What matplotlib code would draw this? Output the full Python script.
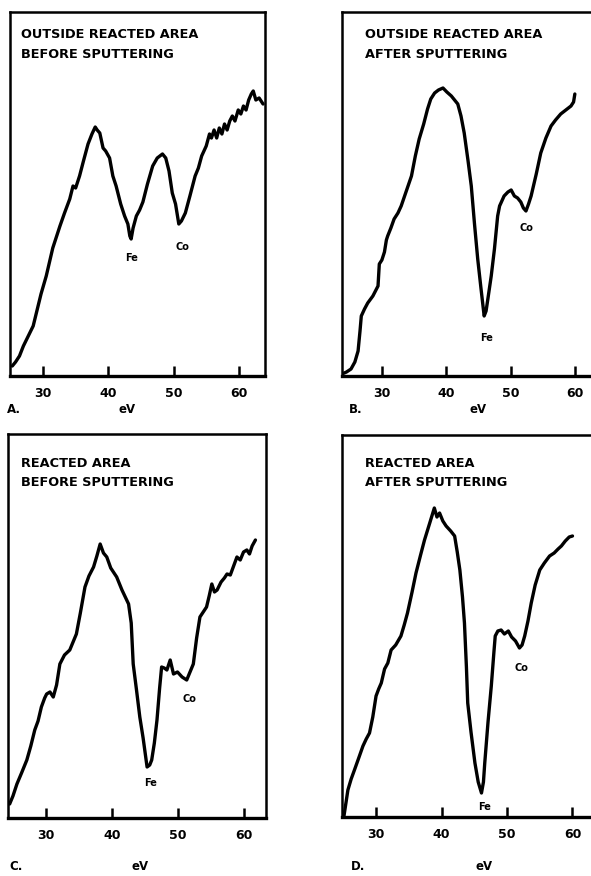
import matplotlib
matplotlib.use("Agg")
import matplotlib.pyplot as plt

# Auger spectra, Fe/Co region, four sample conditions
ev_a = [25.3, 25.8, 26.4, 27.0, 27.6, 28.5, 29.1, 29.7, 30.5, 31.5, 32.1, 32.6, 33.3, 34.1,
        34.6, 35.0, 35.6, 36.2, 36.9, 37.5, 38.0, 38.3, 38.7, 39.2, 39.6, 40.2, 40.7, 41.2,
        41.9, 42.5, 43.0, 43.3, 43.5, 43.8, 44.3, 44.8, 45.3, 46.0, 46.8, 47.5, 48.3, 48.8,
        49.3, 49.8, 50.3, 50.8, 51.2, 51.8, 52.5, 53.3, 53.8, 54.3, 55.0, 55.5, 55.8, 56.2,
        56.6, 57.0, 57.4, 57.8, 58.2, 58.6, 59.0, 59.4, 59.9, 60.3, 60.7, 61.1, 61.5, 61.9,
        62.2, 62.6, 63.1, 63.7]
sig_a = [10, 14, 20, 30, 38, 50, 66, 82, 100, 128, 140, 150, 163, 177,
         190, 188, 200, 215, 232, 242, 249, 246, 243, 228, 225, 218, 200, 190,
         172, 160, 152, 140, 137, 148, 160, 166, 174, 192, 210, 218, 222, 218,
         205, 183, 172, 152, 155, 163, 180, 200, 208, 220, 230, 242, 238, 246,
         238, 248, 242, 252, 246, 255, 260, 255, 266, 262, 270, 266, 276, 282,
         285, 276, 278, 272]

ev_b = [23.8, 24.5, 25.2, 25.8, 26.3, 26.6, 26.8, 27.3, 27.8, 28.6, 29.4, 29.6, 30.0, 30.4,
        30.7, 30.9, 31.4, 31.9, 32.5, 33.0, 33.8, 34.6, 35.2, 35.8, 36.5, 37.1, 37.6, 38.2,
        38.8, 39.5, 40.1, 40.8, 41.3, 41.8, 42.3, 42.8, 43.4, 43.9, 44.4, 44.9, 45.4, 45.9,
        46.2, 46.5, 47.0, 47.5, 48.0, 48.3, 49.0, 49.6, 50.1, 50.6, 51.1, 51.6, 52.0, 52.4,
        52.8, 53.2, 54.0, 54.7, 55.5, 56.3, 57.0, 57.8, 58.6, 59.4, 59.8, 60.0]
sig_b = [2, 4, 7, 14, 25, 45, 60, 67, 73, 80, 90, 112, 116, 124,
         136, 140, 148, 157, 163, 170, 185, 200, 220, 237, 252, 267, 277, 283,
         286, 288, 284, 280, 276, 272, 260, 243, 215, 190, 152, 117, 88, 60,
         65, 78, 100, 127, 160, 170, 180, 184, 186, 180, 178, 174, 168, 165,
         172, 180, 202, 223, 238, 250, 256, 262, 266, 270, 274, 282]

ev_c = [24.5, 25.0, 25.6, 26.3, 27.1, 27.7, 28.3, 28.8, 29.3, 29.8, 30.1, 30.6, 31.1, 31.6,
        32.1, 32.8, 33.6, 34.1, 34.6, 35.2, 35.9, 36.5, 37.2, 37.7, 38.2, 38.7, 39.2, 39.8,
        40.7, 41.5, 42.5, 42.9, 43.2, 43.7, 44.2, 44.7, 45.3, 45.7, 46.0, 46.4, 46.8, 47.2,
        47.5, 47.9, 48.3, 48.8, 49.3, 49.9, 50.6, 51.3, 51.8, 52.3, 52.8, 53.3, 53.8, 54.3,
        54.7, 55.1, 55.5, 55.9, 56.5, 57.0, 57.4, 57.9, 58.4, 58.9, 59.4, 59.9, 60.4, 60.8,
        61.2, 61.7]
sig_c = [14, 22, 34, 45, 58, 72, 88, 97, 111, 120, 124, 126, 121, 133,
         154, 163, 168, 176, 184, 205, 231, 242, 251, 262, 274, 265, 261, 250,
         241, 228, 214, 195, 154, 128, 101, 80, 51, 53, 58, 75, 98, 130,
         151, 150, 148, 158, 144, 146, 141, 138, 146, 154, 180, 201, 206, 211,
         222, 234, 226, 228, 236, 240, 244, 243, 252, 261, 258, 266, 268, 264,
         272, 278]

ev_d = [25.1, 25.4, 25.7, 26.2, 26.7, 27.3, 28.0, 28.5, 29.0, 29.5, 30.0, 30.4, 30.8, 31.3,
        31.8, 32.3, 33.0, 33.8, 34.3, 34.8, 35.5, 36.1, 36.8, 37.4, 38.2, 38.9, 39.3, 39.7,
        40.2, 40.7, 41.4, 42.0, 42.4, 42.8, 43.2, 43.5, 43.8, 44.0, 44.5, 45.1, 45.6, 46.1,
        46.4, 46.6, 47.1, 47.6, 48.0, 48.2, 48.6, 49.1, 49.6, 50.2, 50.7, 51.3, 51.9, 52.3,
        52.7, 53.2, 53.7, 54.3, 55.0, 55.7, 56.5, 57.2, 57.8, 58.3, 58.9, 59.5, 60.0]
sig_d = [1, 14, 27, 38, 47, 58, 71, 78, 84, 100, 121, 128, 134, 148,
         154, 167, 172, 181, 192, 204, 225, 244, 262, 277, 294, 309, 300, 304,
         296, 291, 286, 281, 265, 247, 220, 194, 150, 114, 85, 54, 35, 24,
         35, 54, 95, 131, 165, 181, 186, 187, 183, 186, 180, 176, 169, 172,
         181, 196, 214, 232, 247, 254, 261, 264, 268, 271, 276, 280, 281]

titles = [["OUTSIDE REACTED AREA", "BEFORE SPUTTERING"],
          ["OUTSIDE REACTED AREA", "AFTER SPUTTERING"],
          ["REACTED AREA", "BEFORE SPUTTERING"],
          ["REACTED AREA", "AFTER SPUTTERING"]]
letters = ["A.", "B.", "C.", "D."]
ticks = [30, 40, 50, 60]

# peak labels (eV, height)
fe_pos = [(43.6, 118), (46.2, 38), (45.9, 35), (46.5, 10)]
co_pos = [(51.3, 129), (52.5, 148), (51.7, 119), (52.2, 149)]

W, H = 591, 876
fig = plt.figure(figsize=(W / 100, H / 100), dpi=100)

def px_box(l, t, r, b):
    return [l / W, 1 - b / H, (r - l) / W, (b - t) / H]

# panel frames in pixels: left, top, right, bottom
boxes = [(10, 12, 265, 376), (342, 12, 598, 376), (8, 434, 266, 818), (342, 435, 600, 817)]
xlims = [(24.95, 64.0), (23.8, 63.6), (24.25, 63.3), (24.8, 64.2)]
data = [(ev_a, sig_a), (ev_b, sig_b), (ev_c, sig_c), (ev_d, sig_d)]
# title / letter / eV positions in pixels
title_xy = [(21, 35), (365, 35), (21, 463), (365, 463)]
letter_xy = [(14, 410), (356, 410), (16, 867), (358, 867)]
ev_xy = [(127, 410), (478, 410), (140, 867), (484, 867)]

for i in range(4):
    l, t, r, b = boxes[i]
    ax = fig.add_axes(px_box(l, t, r, b))
    x, y = data[i]
    ax.plot(x, y, color="black", lw=2.4, solid_joinstyle="round", solid_capstyle="round")
    ax.set_xlim(*xlims[i])
    ax.set_ylim(0, b - t)
    ax.set_xticks(ticks)
    ax.set_yticks([])
    ax.tick_params(axis="x", direction="in", length=7, width=1.8, pad=8,
                   labelsize=9)
    for lab in ax.get_xticklabels():
        lab.set_fontweight("bold")
    for s in ax.spines.values():
        s.set_linewidth(1.8)
    ax.spines["bottom"].set_linewidth(2.4)

    ax.text(*fe_pos[i], "Fe", fontsize=7, fontweight="bold", ha="center", va="center")
    ax.text(*co_pos[i], "Co", fontsize=7, fontweight="bold", ha="center", va="center")

    tx, ty = title_xy[i]
    fig.text(tx / W, 1 - ty / H, titles[i][0], fontsize=9.3, fontweight="bold", va="center")
    fig.text(tx / W, 1 - (ty + 19) / H, titles[i][1], fontsize=9.3, fontweight="bold", va="center")
    lx, ly = letter_xy[i]
    fig.text(lx / W, 1 - ly / H, letters[i], fontsize=8.5, fontweight="bold", ha="center", va="center")
    ex, ey = ev_xy[i]
    fig.text(ex / W, 1 - ey / H, "eV", fontsize=8.5, fontweight="bold", ha="center", va="center")

fig.savefig("out.png", dpi=100)
